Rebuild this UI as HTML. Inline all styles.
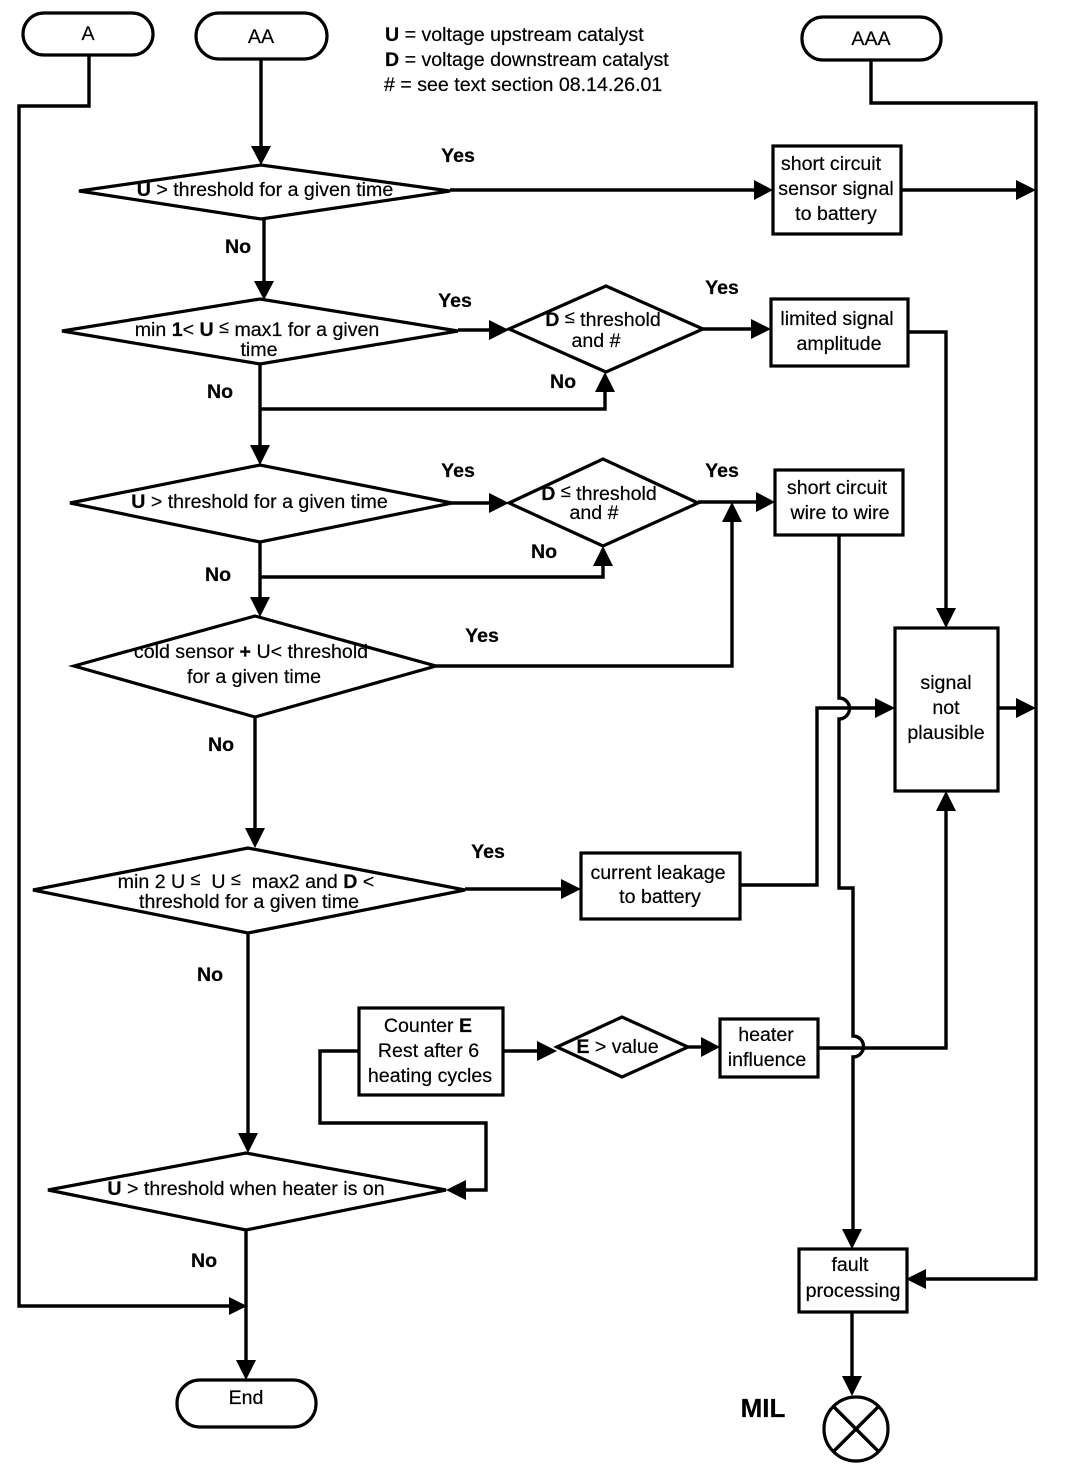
<!DOCTYPE html>
<html><head><meta charset="utf-8"><style>
html,body{margin:0;padding:0;background:#fff}
svg{display:block}
text{font-family:"Liberation Sans",sans-serif;font-size:19.6px;fill:#000;text-anchor:middle;stroke:#000;stroke-width:.2}
.b{font-weight:bold}
.l{text-anchor:start}
.le{font-size:18px}
.s{fill:#fff;stroke:#000;stroke-width:3.2}
.c{fill:none;stroke:#000;stroke-width:3.4}
.a{fill:#000;stroke:none}
</style></head><body>
<svg width="1072" height="1470" viewBox="0 0 1072 1470" xmlns="http://www.w3.org/2000/svg">
<!-- connectors -->
<g class="c">
<polyline points="89,55 89,106 19,106 19,1306 230,1306"/>
<polyline points="261,59 261,148"/>
<polyline points="450,190 757,190"/>
<polyline points="264,219 264,283"/>
<polyline points="902,190 1018,190"/>
<polyline points="871,60 871,103 1036,103 1036,1279 925,1279"/>
<polyline points="458,330 492,330"/>
<polyline points="703,329 755,329"/>
<polyline points="908,332 946,332 946,610"/>
<polyline points="260,364 260,448"/>
<polyline points="260,409 605,409 605,390"/>
<polyline points="452,503 492,503"/>
<polyline points="698,502 759,502"/>
<polyline points="260,542 260,600"/>
<polyline points="260,577 603,577 603,564"/>
<polyline points="436,666 732,666 732,520"/>
<polyline points="255,717 255,831"/>
<polyline points="465,889 565,889"/>
<polyline points="740,885 817,885 817,708 878,708"/>
<path d="M839,535 V698 A10.5,10.5 0 0 1 839,719 V888 H853 V1036 A10.5,10.5 0 0 1 853,1057 V1232"/>
<polyline points="998,708 1018,708"/>
<polyline points="248,933 248,1135"/>
<polyline points="504,1051 540,1051"/>
<polyline points="688,1047 704,1047"/>
<polyline points="818,1048 946,1048 946,809"/>
<polyline points="359,1051 320,1051 320,1123 486,1123 486,1190 464,1190"/>
<polyline points="246,1230 246,1362"/>
<polyline points="852,1312 852,1378"/>
</g>
<!-- arrowheads -->
<g class="a">
<polygon points="247,1306 229,1297 229,1315"/>
<polygon points="261,165 251,146 271,146"/>
<polygon points="773,190 754,180 754,200"/>
<polygon points="264,300 254,281 274,281"/>
<polygon points="1036,190 1016,180 1016,200"/>
<polygon points="906,1279 926,1269 926,1289"/>
<polygon points="509,330 489,320 489,340"/>
<polygon points="771,329 751,319 751,339"/>
<polygon points="946,628 936,608 956,608"/>
<polygon points="260,465 250,445 270,445"/>
<polygon points="605,372 595,392 615,392"/>
<polygon points="509,503 489,493 489,513"/>
<polygon points="775,502 756,492 756,512"/>
<polygon points="260,617 250,597 270,597"/>
<polygon points="603,546 593,566 613,566"/>
<polygon points="732,502 722,522 742,522"/>
<polygon points="255,848 245,828 265,828"/>
<polygon points="581,889 561,879 561,899"/>
<polygon points="895,708 875,698 875,718"/>
<polygon points="1036,708 1016,698 1016,718"/>
<polygon points="248,1153 238,1133 258,1133"/>
<polygon points="557,1051 537,1041 537,1061"/>
<polygon points="720,1047 701,1037 701,1057"/>
<polygon points="946,791 936,811 956,811"/>
<polygon points="446,1190 466,1180 466,1200"/>
<polygon points="246,1380 236,1360 256,1360"/>
<polygon points="852,1249 842,1229 862,1229"/>
<polygon points="852,1396 842,1376 862,1376"/>
</g>
<!-- terminators -->
<rect class="s" x="23" y="13" width="130" height="42" rx="21"/>
<rect class="s" x="196" y="13" width="131" height="46" rx="23"/>
<rect class="s" x="802" y="17" width="139" height="43" rx="21"/>
<rect class="s" x="177" y="1380" width="139" height="47" rx="23"/>
<!-- diamonds -->
<polygon class="s" points="79,191 261,165 450,191 261,219"/>
<polygon class="s" points="62,331 260,299 458,331 260,364"/>
<polygon class="s" points="509,329 606,286 703,329 606,372"/>
<polygon class="s" points="70,503 260,465 452,503 260,542"/>
<polygon class="s" points="509,503 603,459 698,503 603,546"/>
<polygon class="s" points="74,666 255,616 436,666 255,717"/>
<polygon class="s" points="33,890 248,848 465,890 248,933"/>
<polygon class="s" points="557,1047 622,1017 688,1047 622,1077"/>
<polygon class="s" points="48,1190 246,1153 446,1190 246,1230"/>
<!-- boxes -->
<rect class="s" x="773" y="146" width="128" height="88"/>
<rect class="s" x="771" y="299" width="137" height="67"/>
<rect class="s" x="775" y="470" width="128" height="65"/>
<rect class="s" x="895" y="628" width="103" height="163"/>
<rect class="s" x="581" y="853" width="159" height="66"/>
<rect class="s" x="359" y="1008" width="144" height="87"/>
<rect class="s" x="720" y="1019" width="98" height="58"/>
<rect class="s" x="799" y="1249" width="108" height="63"/>
<!-- MIL lamp -->
<circle class="s" cx="856" cy="1429" r="32"/>
<path class="c" d="M833,1406 L879,1452 M879,1406 L833,1452"/>
<!-- text -->
<text x="88" y="40">A</text>
<text x="261" y="43">AA</text>
<text x="871" y="45">AAA</text>
<text x="246" y="1404">End</text>
<text class="l" x="385" y="41"><tspan class="b">U</tspan> = voltage upstream catalyst</text>
<text class="l" x="385" y="66"><tspan class="b">D</tspan> = voltage downstream catalyst</text>
<text class="l" x="384" y="91"># = see text section 08.14.26.01</text>
<text x="265" y="196"><tspan class="b">U</tspan> &gt; threshold for a given time</text>
<text x="257" y="336">min <tspan class="b">1</tspan>&lt; <tspan class="b">U</tspan> <tspan class="le" dy="-3">≤</tspan><tspan dy="3"> max1 for a given</tspan></text>
<text x="259" y="356">time</text>
<text x="603" y="326"><tspan class="b">D</tspan> <tspan class="le" dy="-3">≤</tspan><tspan dy="3"> threshold</tspan></text>
<text x="596" y="347">and #</text>
<text x="259.5" y="508"><tspan class="b">U</tspan> &gt; threshold for a given time</text>
<text x="599" y="500"><tspan class="b">D</tspan> <tspan class="le" dy="-3">≤</tspan><tspan dy="3"> threshold</tspan></text>
<text x="594" y="519">and #</text>
<text x="251" y="658">cold sensor <tspan class="b">+</tspan> U&lt; threshold</text>
<text x="254" y="683">for a given time</text>
<text x="246" y="888">min 2 U <tspan class="le" dy="-3">≤</tspan><tspan dy="3"> &#160;U </tspan><tspan class="le" dy="-3">≤</tspan><tspan dy="3"> &#160;max2 and </tspan><tspan class="b">D</tspan> &lt;</text>
<text x="249" y="908">threshold for a given time</text>
<text x="246" y="1195"><tspan class="b">U</tspan> &gt; threshold when heater is on</text>
<text x="617.5" y="1053"><tspan class="b">E</tspan> &gt; value</text>
<text x="831" y="170">short circuit</text>
<text x="836" y="195">sensor signal</text>
<text x="836" y="220">to battery</text>
<text x="837" y="325">limited signal</text>
<text x="839" y="350">amplitude</text>
<text x="837" y="494">short circuit</text>
<text x="840" y="519">wire to wire</text>
<text x="946" y="689">signal</text>
<text x="946" y="714">not</text>
<text x="946" y="739">plausible</text>
<text x="658" y="879">current leakage</text>
<text x="660" y="903">to battery</text>
<text x="428" y="1032">Counter <tspan class="b">E</tspan></text>
<text x="428.5" y="1057">Rest after 6</text>
<text x="430" y="1082">heating cycles</text>
<text x="766" y="1041">heater</text>
<text x="767" y="1066">influence</text>
<text x="850" y="1271">fault</text>
<text x="853" y="1297">processing</text>
<g class="b">
<text x="458" y="162">Yes</text>
<text x="238" y="253">No</text>
<text x="455" y="307">Yes</text>
<text x="722" y="294">Yes</text>
<text x="220" y="398">No</text>
<text x="563" y="388">No</text>
<text x="458" y="477">Yes</text>
<text x="722" y="477">Yes</text>
<text x="544" y="558">No</text>
<text x="218" y="581">No</text>
<text x="482" y="642">Yes</text>
<text x="221" y="751">No</text>
<text x="488" y="858">Yes</text>
<text x="210" y="981">No</text>
<text x="204" y="1267">No</text>
<text x="763" y="1417" style="font-size:26px">MIL</text>
</g>
</svg>
</body></html>
